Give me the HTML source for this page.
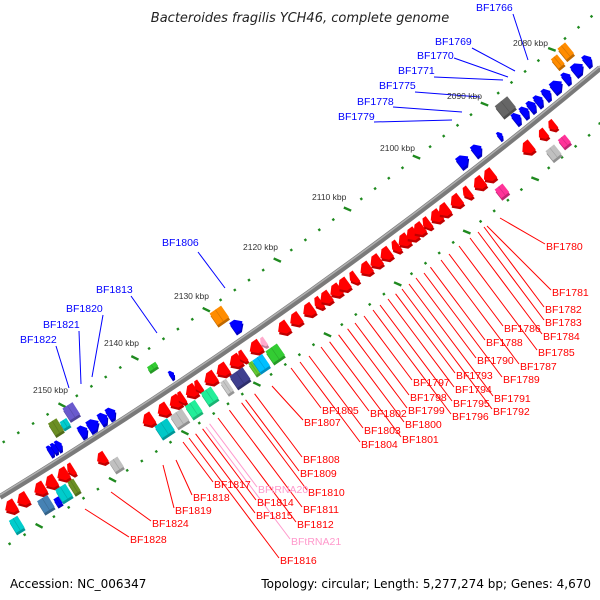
<!DOCTYPE html>
<html><head><meta charset="utf-8"><style>
html,body{margin:0;padding:0;background:#fff;width:600px;height:600px;overflow:hidden}
svg{display:block}
.r{fill:#ff0000;font:10.5px "Liberation Sans",sans-serif}
.b{fill:#0000ff;font:10.5px "Liberation Sans",sans-serif}
.p{fill:#ff99cc;font:10.5px "Liberation Sans",sans-serif}
.k{fill:#333;font:8.5px "Liberation Sans",sans-serif}
</style></head><body>
<svg id="s" width="600" height="600" viewBox="0 0 600 600" xmlns="http://www.w3.org/2000/svg">
<g id="tracks"></g>
<path d="M0,497 Q320,301.5 600,68" fill="none" stroke="#7a7a7a" stroke-width="6"/>
<path d="M0,495 Q320,299.5 600,66" fill="none" stroke="#b0b0b0" stroke-width="1.5"/>
<g id="genes"></g>
<g id="lines"></g>
<text x="300" y="22" text-anchor="middle" style="font:italic 13px 'DejaVu Sans','Liberation Sans',sans-serif;fill:#222">Bacteroides fragilis YCH46, complete genome</text>
<text x="10" y="588" style="font:12px 'DejaVu Sans','Liberation Sans',sans-serif;fill:#000">Accession: NC_006347</text>
<text x="591" y="588" text-anchor="end" style="font:12px 'DejaVu Sans','Liberation Sans',sans-serif;fill:#000">Topology: circular; Length: 5,277,274 bp; Genes: 4,670</text>
<text class="k" x="513" y="46">2080 kbp</text>
<text class="k" x="447" y="99">2090 kbp</text>
<text class="k" x="380" y="151">2100 kbp</text>
<text class="k" x="312" y="200">2110 kbp</text>
<text class="k" x="243" y="250">2120 kbp</text>
<text class="k" x="174" y="299">2130 kbp</text>
<text class="k" x="104" y="346">2140 kbp</text>
<text class="k" x="33" y="393">2150 kbp</text>
<g id="labels">
<text class="b" x="476" y="11">BF1766</text>
<text class="b" x="435" y="45">BF1769</text>
<text class="b" x="417" y="59">BF1770</text>
<text class="b" x="398" y="74">BF1771</text>
<text class="b" x="379" y="89">BF1775</text>
<text class="b" x="357" y="105">BF1778</text>
<text class="b" x="338" y="120">BF1779</text>
<text class="b" x="162" y="246">BF1806</text>
<text class="b" x="96" y="293">BF1813</text>
<text class="b" x="66" y="312">BF1820</text>
<text class="b" x="43" y="328">BF1821</text>
<text class="b" x="20" y="343">BF1822</text>
<text class="r" x="546" y="250">BF1780</text>
<text class="r" x="552" y="296">BF1781</text>
<text class="r" x="545" y="313">BF1782</text>
<text class="r" x="545" y="326">BF1783</text>
<text class="r" x="543" y="340">BF1784</text>
<text class="r" x="538" y="356">BF1785</text>
<text class="r" x="504" y="332">BF1786</text>
<text class="r" x="520" y="370">BF1787</text>
<text class="r" x="486" y="346">BF1788</text>
<text class="r" x="503" y="383">BF1789</text>
<text class="r" x="477" y="364">BF1790</text>
<text class="r" x="494" y="402">BF1791</text>
<text class="r" x="493" y="415">BF1792</text>
<text class="r" x="456" y="379">BF1793</text>
<text class="r" x="455" y="393">BF1794</text>
<text class="r" x="453" y="407">BF1795</text>
<text class="r" x="452" y="420">BF1796</text>
<text class="r" x="413" y="386">BF1797</text>
<text class="r" x="410" y="401">BF1798</text>
<text class="r" x="408" y="414">BF1799</text>
<text class="r" x="405" y="428">BF1800</text>
<text class="r" x="402" y="443">BF1801</text>
<text class="r" x="370" y="417">BF1802</text>
<text class="r" x="364" y="434">BF1803</text>
<text class="r" x="361" y="448">BF1804</text>
<text class="r" x="322" y="414">BF1805</text>
<text class="r" x="304" y="426">BF1807</text>
<text class="r" x="303" y="463">BF1808</text>
<text class="r" x="300" y="477">BF1809</text>
<text class="r" x="308" y="496">BF1810</text>
<text class="r" x="303" y="513">BF1811</text>
<text class="r" x="297" y="528">BF1812</text>
<text class="r" x="257" y="506">BF1814</text>
<text class="r" x="256" y="519">BF1815</text>
<text class="r" x="280" y="564">BF1816</text>
<text class="r" x="214" y="488">BF1817</text>
<text class="r" x="193" y="501">BF1818</text>
<text class="r" x="175" y="514">BF1819</text>
<text class="r" x="152" y="527">BF1824</text>
<text class="r" x="130" y="543">BF1828</text>
<text class="p" x="258" y="493">BFtRNA20</text>
<text class="p" x="291" y="545">BFtRNA21</text>
</g>
</svg>
<script>
(function(){
var NS="http://www.w3.org/2000/svg";
var P0=[0,497],C=[320,301.5],P2=[600,68];
function pt(t){var a=(1-t)*(1-t),b=2*t*(1-t),c=t*t;return [a*P0[0]+b*C[0]+c*P2[0],a*P0[1]+b*C[1]+c*P2[1]];}
function tg(t){var x=2*(1-t)*(C[0]-P0[0])+2*t*(P2[0]-C[0]),y=2*(1-t)*(C[1]-P0[1])+2*t*(P2[1]-C[1]);var l=Math.hypot(x,y);return [x/l,y/l];}
function tx(x){return (640-Math.sqrt(640*640-160*x))/80;}
function el(n,a,p){var e=document.createElementNS(NS,n);for(var k in a)e.setAttribute(k,a[k]);p.appendChild(e);return e;}
function shade(c,f){var r=parseInt(c.substr(1,2),16),g=parseInt(c.substr(3,2),16),b=parseInt(c.substr(5,2),16);r=Math.round(r*f);g=Math.round(g*f);b=Math.round(b*f);return "rgb("+r+","+g+","+b+")";}
var G=document.getElementById("genes");
function gene(x,off,L,h,col,type){
 var t=tx(x),p=pt(t),d=tg(t),ang=Math.atan2(d[1],d[0])*180/Math.PI;
 var px=p[0]-d[1]*off,py=p[1]+d[0]*off;
 var g=el("g",{transform:"translate("+px.toFixed(1)+","+py.toFixed(1)+") rotate("+ang.toFixed(1)+")"},G);
 var pts,hd=Math.min(L*0.5,h*0.5),a=-L/2,b=L/2,u=-h/2,v=h/2;
 if(type=="R")pts=[[a,u],[b-hd,u],[b,0],[b-hd,v],[a,v]];
 else if(type=="L")pts=[[b,u],[a+hd,u],[a,0],[a+hd,v],[b,v]];
 else pts=[[a,u],[b,u],[b,v],[a,v]];
 var s=pts.map(function(q){return q[0].toFixed(1)+","+q[1].toFixed(1)}).join(" ");
 el("polygon",{points:s,fill:shade(col,0.75),transform:"rotate("+(-ang).toFixed(1)+") translate(1,2.5) rotate("+ang.toFixed(1)+")"},g);
 el("polygon",{points:s,fill:col},g);
 if(type=="B")el("line",{x1:0,y1:u,x2:0,y2:v,stroke:shade(col,0.85),"stroke-width":0.7},g);
}
var R="#ff0000",B="#0000ff";
[3,15,32,43,55,63].forEach(function(x,i){gene(x,14,i==5?7:12,13,R,"L")});
[140,155,167,173,183,190].forEach(function(x,i){gene(x,14,(i==3||i==5)?7:12,13,R,"L")});
[202,214,227,234,247].forEach(function(x,i){gene(x,14,i==3?7:13,13,R,"L")});
[275,287,300,310,317,327,335,345,357,367,377,387,395,403,410,418,427,435,447,458,470,480].forEach(function(x,i){gene(x,14,(i%4==3)?8:12,13,R,"L")});
gene(255,14,6,10,"#ffaacc","L");
gene(517,16,12,13,R,"L");gene(533,15,9,11,R,"L");gene(543,14,8,11,R,"L");
gene(90,21,10,12,R,"L");
[58,62,66].forEach(function(x){gene(x,-13,6,11,B,"R")});
[90,100,110,118].forEach(function(x,i){gene(x,-12,i==1?12:9,12,B,"R")});
gene(246,-15,12,12,B,"R");gene(178,-11,5,8,B,"R");gene(507,-11,5,8,B,"R");
gene(472,-14,12,12,B,"R");gene(486,-14,10,12,B,"R");
[526,534,541,548,556,566,576,587,597].forEach(function(x,i){gene(x,-14,(i==5||i==7)?12:8,12,B,"R")});
gene(0,32,10,14,"#00cccc","B");
gene(30,30,12,14,"#4682b4","B");gene(40,34,6,8,B,"B");gene(48,30,12,14,"#00cccc","B");gene(58,30,7,14,"#6b8e23","B");
gene(98,34,10,12,"#c0c0c0","B");
gene(148,30,15,14,"#00c8c8","B");gene(163,30,14,14,"#c0c0c0","B");gene(177,30,12,14,"#22ee99","B");
gene(194,28,12,14,"#22ee99","B");
gene(210,30,7,14,"#c8c8c8","B");gene(223,30,16,14,"#3f3f8f","B");gene(237,30,5,14,"#66cc33","B");gene(244,30,12,14,"#00bfff","B");gene(258,30,14,14,"#33cc33","B");
gene(481,34,10,11,"#ff3399","B");gene(531,36,11,12,"#c0c0c0","B");gene(543,34,9,10,"#ff3399","B");
gene(72,-30,10,14,"#6b8e23","B");gene(80,-28,8,8,"#00cccc","B");gene(90,-35,12,14,"#6a5acd","B");
gene(168,-28,10,5,"#33cc33","B");
gene(238,-33,14,14,"#ff8c00","B");
gene(524,-30,16,14,"#666666","B");
gene(578,-32,8,12,"#ff8c00","B");gene(588,-35,10,14,"#ff8c00","B");
var T=document.getElementById("tracks");
function track(off,majX){
 var pts=[],cum=[0];
 for(var i=0;i<=2000;i++){var t=-0.05+1.1*i/2000,p=pt(t),d=tg(t);pts.push([p[0]-d[1]*off,p[1]+d[0]*off,d]);if(i>0)cum.push(cum[i-1]+Math.hypot(pts[i][0]-pts[i-1][0],pts[i][1]-pts[i-1][1]));}
 var s0=0,bd=1e9;for(var i=0;i<pts.length;i++){var dd=Math.abs(pts[i][0]-majX);if(dd<bd){bd=dd;s0=cum[i];}}
 var step=17.3,n=Math.floor(s0/step);var s=s0-n*step,k=-n;
 for(var i=0;i<pts.length;i++){
  if(cum[i]>=s){var q=pts[i];
   if(q[0]>-5&&q[0]<605&&q[1]>-5&&q[1]<605){
    var ang=Math.atan2(q[2][1],q[2][0])*180/Math.PI;var maj=(((k%5)+5)%5)==0;
    el("rect",{x:maj?-4:-1.2,y:-1.2,width:maj?8:2.4,height:2.4,fill:"#1f8a1f",transform:"translate("+q[0].toFixed(1)+","+q[1].toFixed(1)+") rotate("+(maj?ang+60:ang).toFixed(1)+")"},T);}
   s+=step;k++;}
 }
}
track(-45,62);track(45,39);
var L=document.getElementById("lines");
function ln(x1,y1,x2,y2,c){el("line",{x1:x1,y1:y1,x2:x2,y2:y2,stroke:c,"stroke-width":1},L);}
var BL="#0000ff";
ln(513,14,528,60,BL);ln(472,48,515,71,BL);ln(454,58,508,77,BL);ln(434,77,503,80,BL);ln(415,92,480,97,BL);ln(393,107,462,112,BL);ln(374,122,452,120,BL);
ln(198,252,225,288,BL);ln(131,296,157,333,BL);ln(103,315,92,377,BL);ln(79,331,81,384,BL);ln(56,346,69,388,BL);
function dist(x,y){var m=1e9;for(var i=0;i<=300;i++){var p=pt(i/300);var d=Math.hypot(p[0]-x,p[1]-y);if(d<m)m=d;}return m;}
var labs=document.querySelectorAll("#labels text.r, #labels text.p");
var special={"BF1780":[500,218],"BF1828":[85,509],"BF1824":[111,492],"BF1807":[272,386],"BF1819":[163,465],"BF1818":[176,460],"BF1781":[487,226]};
labs.forEach(function(t){
 var lx=+t.getAttribute("x"),ly=+t.getAttribute("y"),id=t.textContent,col=t.getAttribute("class")=="p"?"#ff99cc":"#ff0000";
 var sx=lx-1,sy=ly-6;
 if(special[id]){ln(special[id][0],special[id][1],sx,sy,col);return;}
 var dx=-0.6,dy=-0.8,x=sx,y=sy;
 for(var i=0;i<400;i++){if(dist(x,y)<52)break;x+=dx;y+=dy;}
 ln(x,y,sx,sy,col);
});
})();
</script>
</body></html>
